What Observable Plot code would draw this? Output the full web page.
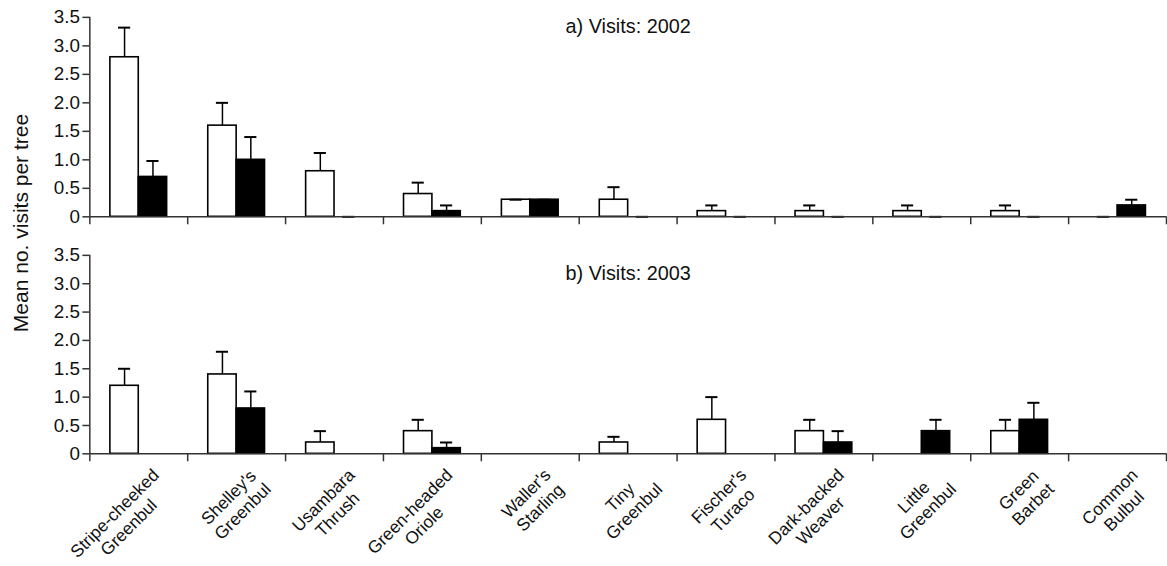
<!DOCTYPE html>
<html><head><meta charset="utf-8">
<script src="https://cdn.jsdelivr.net/npm/d3@7"></script>
<script src="https://cdn.jsdelivr.net/npm/@observablehq/plot@0.6"></script>
<style>
html,body{margin:0;padding:0;background:#fff;overflow:hidden;}
#wrap{position:relative;width:1167px;height:566px;overflow:hidden;font-family:"Liberation Sans",Arial,sans-serif;color:#111;}
#ylab{position:absolute;left:21px;top:223px;transform:translate(-50%,-50%) rotate(-90deg);white-space:nowrap;font-size:21px;}
svg{display:block;overflow:visible;}
</style></head><body>
<div id="wrap"><div id="ylab">Mean no. visits per tree</div><div id="top"></div><div id="bottom"></div></div>
<script>
// ---- data ----
const species = ["Stripe-cheeked\nGreenbul","Shelley's\nGreenbul","Usambara\nThrush","Green-headed\nOriole","Waller's\nStarling","Tiny\nGreenbul","Fischer's\nTuraco","Dark-backed\nWeaver","Little\nGreenbul","Green\nBarbet","Common\nBulbul"];
const seriesNames = ["open", "filled"];
const open2002   = [2.8, 1.6, 0.8, 0.4, 0.3, 0.3, 0.1, 0.1, 0.1, 0.1, 0];
const openErr2002 = [0.52, 0.4, 0.32, 0.2, 0, 0.22, 0.1, 0.1, 0.1, 0.1, 0];
const filled2002 = [0.7, 1.0, 0, 0.1, 0.3, 0, 0, 0, 0, 0, 0.2];
const filledErr2002 = [0.28, 0.4, 0, 0.1, 0, 0, 0, 0, 0, 0, 0.1];
const open2003   = [1.2, 1.4, 0.2, 0.4, null, 0.2, 0.6, 0.4, null, 0.4, null];
const openErr2003 = [0.3, 0.4, 0.2, 0.2, null, 0.1, 0.4, 0.2, null, 0.2, null];
const filled2003 = [null, 0.8, null, 0.1, null, null, null, 0.2, 0.4, 0.6, null];
const filledErr2003 = [null, 0.3, null, 0.1, null, null, null, 0.2, 0.2, 0.3, null];
const yTicks = [0, 0.5, 1.0, 1.5, 2.0, 2.5, 3.0, 3.5];
const titles = ["a) Visits: 2002", "b) Visits: 2003"];

// ---- layout / style ----
const W = 1176, ML = 90, MR = 1;
const barFrac = 0.29, capHalf = 0.062;
const font = "Liberation Sans";
const boundaries = d3.range(species.length + 1);

function rowsFor(a, ea, b, eb) {
  const rows = [];
  species.forEach((s, i) => {
    if (a[i] != null) rows.push({i, g: seriesNames[0], v: a[i], e: ea[i]});
    if (b[i] != null) rows.push({i, g: seriesNames[1], v: b[i], e: eb[i]});
  });
  return rows;
}
const x1 = d => d.i + (d.g === seriesNames[0] ? 0.5 - barFrac : 0.5);
const x2 = d => d.i + (d.g === seriesNames[0] ? 0.5 : 0.5 + barFrac);
const xc = d => (x1(d) + x2(d)) / 2;

function panel(rows, title, height, mt, mb, titleDy, extra) {
  return Plot.plot({
    width: W, height, marginLeft: ML, marginRight: MR, marginTop: mt, marginBottom: mb,
    style: {fontFamily: font, color: "#111", background: "transparent", overflow: "visible"},
    x: {type: "linear", domain: [0, species.length], label: null},
    y: {domain: [0, 3.5], label: null},
    color: {type: "ordinal", domain: seriesNames, range: ["#ffffff", "#000000"]},
    marks: [
      Plot.rectY(rows, {x1, x2, y1: 0, y2: "v", fill: "g", stroke: "#000", strokeWidth: 1.6}),
      Plot.ruleX(rows.filter(d => d.e > 0), {x: xc, y1: "v", y2: d => d.v + d.e, stroke: "#000", strokeWidth: 1.5}),
      Plot.ruleY(rows, {y: d => d.v + d.e, x1: d => xc(d) - capHalf, x2: d => xc(d) + capHalf, stroke: "#000", strokeWidth: 2}),
      Plot.ruleY([0], {stroke: "#333", strokeWidth: 1.5}),
      Plot.ruleX([0], {y1: 0, y2: 3.5, stroke: "#333", strokeWidth: 1.5}),
      Plot.axisX({ticks: boundaries, tickSize: 8, tickFormat: () => "", label: null, stroke: "#333", strokeWidth: 1.5}),
      Plot.axisY({ticks: yTicks, tickSize: 7, tickPadding: 3, fontSize: 19, label: null, stroke: "#333", strokeWidth: 1.5,
        tickFormat: d => d === 0 ? "0" : d.toFixed(1)}),
      Plot.text([title], {frameAnchor: "top", lineAnchor: "middle", dy: titleDy, fontSize: 20, fill: "#111"}),
      ...(extra || [])
    ]
  });
}

// x labels (bottom panel): lines centred, block's right end placed near the tick centre
const canvas = document.createElement("canvas");
const ctx = canvas.getContext("2d");
const labelSize = 17.5;
ctx.font = `${labelSize}px "${font}"`;
const bottomH = 326, bottomMT = 17, bottomMB = 109;
const pxX = (W - ML - MR) / species.length;
const pxY = (bottomH - bottomMT - bottomMB) / 3.5;
const offX = 24, offY = 25;
const labelRows = species.map((s, i) => {
  const w = d3.max(s.split("\n"), l => ctx.measureText(l).width);
  return {s, x: i + 0.5 + (offX - 0.3536 * w) / pxX, y: -(offY + 0.3536 * w) / pxY};
});
const labelMark = Plot.text(labelRows, {x: "x", y: "y", text: "s", rotate: -45, textAnchor: "middle", lineAnchor: "middle", lineHeight: 1.15, fontSize: labelSize, fill: "#111"});

document.getElementById("top").append(panel(rowsFor(open2002, openErr2002, filled2002, filledErr2002), titles[0], 240, 17, 22, 9));
document.getElementById("bottom").append(panel(rowsFor(open2003, openErr2003, filled2003, filledErr2003), titles[1], bottomH, bottomMT, bottomMB, 18, [labelMark]));
</script>
</body></html>
